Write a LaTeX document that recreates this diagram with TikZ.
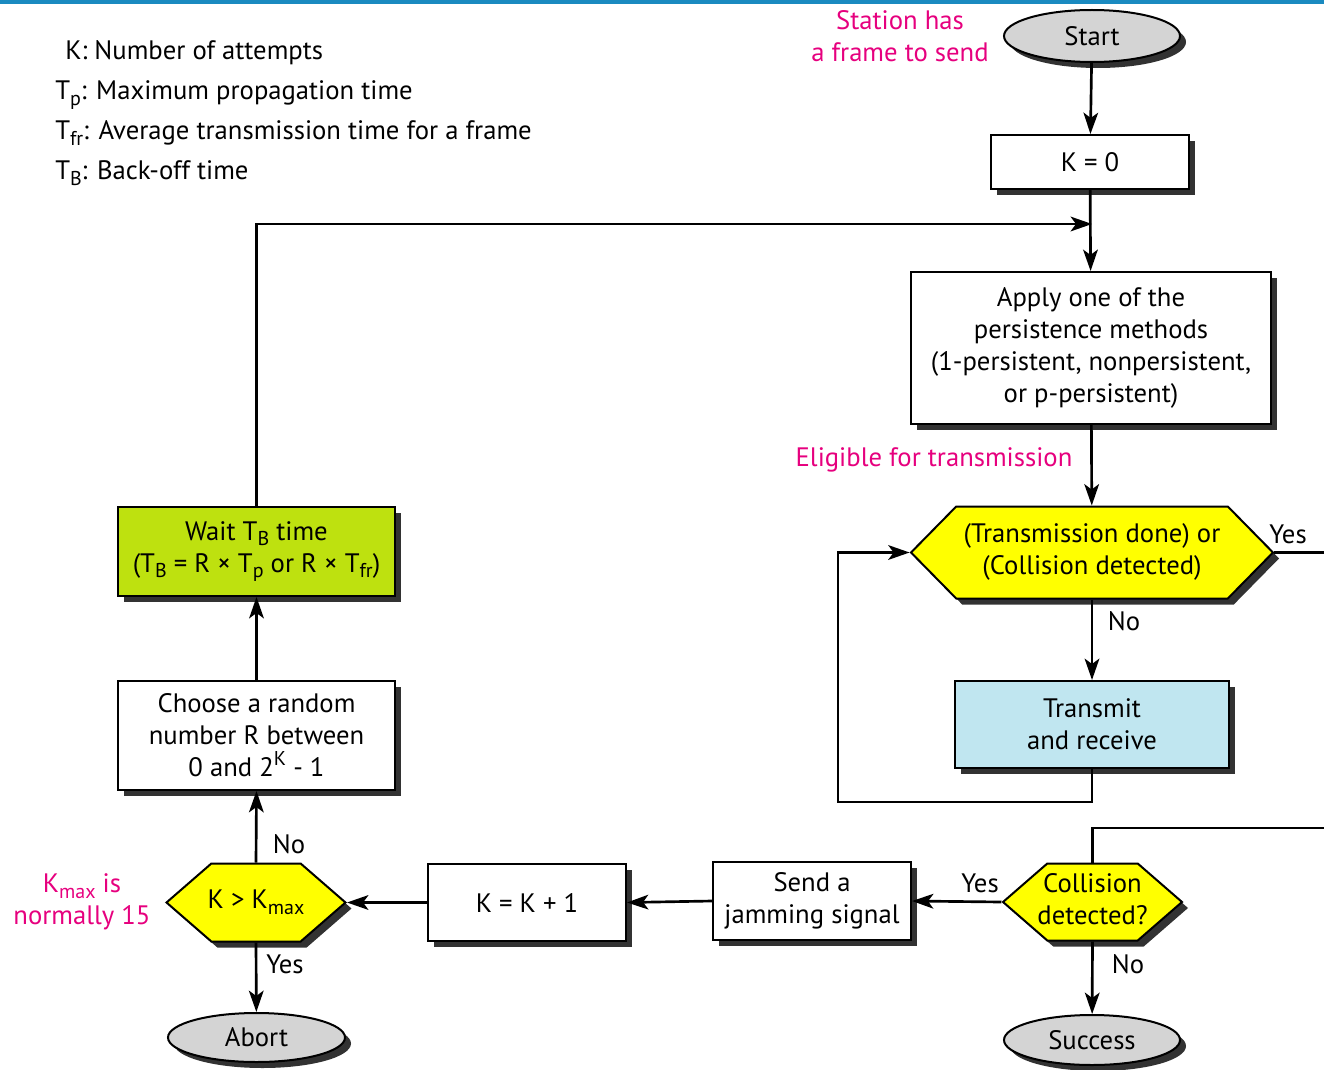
\documentclass[tikz,border=0pt]{standalone}
\usepackage{fontspec}
\setmainfont{PT Sans}
\usetikzlibrary{shapes.geometric,shapes.symbols,arrows.meta,shadows}
\definecolor{barblue}{RGB}{26,138,192}
\definecolor{pinktxt}{RGB}{230,0,126}
\definecolor{hexyellow}{RGB}{255,255,0}
\definecolor{waitgreen}{RGB}{190,225,15}
\definecolor{txblue}{RGB}{192,230,240}
\definecolor{ovalgray}{RGB}{212,212,212}
\definecolor{shadowgray}{RGB}{50,50,50}
\newcommand\subt[1]{\raisebox{-0.4ex}{\fontsize{15}{15}\selectfont #1}}
\newcommand\supt[1]{\raisebox{0.85ex}{\fontsize{15}{15}\selectfont #1}}
\newcommand\hexlines[1]{\makebox[0pt]{\begin{tabular}{@{}c@{}}#1\end{tabular}}}
\begin{document}
\begin{tikzpicture}[x=0.75pt,y=-0.75pt,
  every node/.style={font=\fontsize{20}{24}\selectfont, inner sep=0pt},
  shad/.style={drop shadow={shadow xshift=4.5pt,shadow yshift=-4.5pt,fill=shadowgray,opacity=1}},
  procbox/.style={draw, line width=1.5pt, fill=white, shad, align=center},
  ovalnode/.style={ellipse, draw, line width=1.5pt, fill=ovalgray, shad},
  hexnode/.style={signal, signal to=west and east, draw, line width=1.5pt, fill=hexyellow, shad},
  arr/.style={line width=2pt, -{Stealth[length=16pt,width=11pt,inset=4pt]}},
  ln/.style={line width=2pt},
  pinklbl/.style={text=pinktxt, align=center}]
\useasboundingbox (0,0) rectangle (1324,1070);
\clip (0,0) rectangle (1324,1070);
\fill[barblue] (0,0) rectangle (1324,4);

% legend
\node[anchor=base west] (lk) at (65,60) {K: Number of attempts};
\node[anchor=base west] (ltp) at (55,100) {T\subt{p}: Maximum propagation time};
\node[anchor=base west] (ltfr) at (55,140) {T\subt{fr}: Average transmission time for a frame};
\node[anchor=base west] (ltb) at (55,180) {T\subt{B}: Back-off time};

% pink notes
\node[pinklbl] (station) at (900,36) {Station has\\a frame to send};
\node[pinklbl] (elig) at (934,460) {Eligible for transmission};
\node[pinklbl] (kmaxnote) at (82,902) {K\subt{max} is\\normally 15};

% nodes
\node[ovalnode, minimum width=132pt, minimum height=39pt] (start) at (1092,36) {Start};
\node[procbox, minimum width=148.5pt, minimum height=40.5pt] (k0) at (1090,162) {K = 0};
\coordinate (junc) at (1092,224);
\node[procbox, minimum width=270pt, minimum height=114pt] (apply) at (1091,348)
  {Apply one of the\\persistence methods\\(1-persistent, nonpersistent,\\or p-persistent)};
\node[hexnode, signal pointer angle=91, minimum width=271.5pt, minimum height=69pt] (hex1) at (1092,552.5)
  {\hexlines{(Transmission done) or\\(Collision detected)}};
\node[procbox, fill=txblue, minimum width=205.5pt, minimum height=65.25pt] (tx) at (1092,724.5)
  {Transmit\\and receive};
\node[hexnode, signal pointer angle=82, minimum width=134.25pt, minimum height=57.75pt] (hex2) at (1092.5,902)
  {\hexlines{Collision\\detected?}};
\node[ovalnode, minimum width=132pt, minimum height=37.5pt] (success) at (1092,1040) {Success};
\node[procbox, minimum width=148.5pt, minimum height=58.5pt] (jam) at (812,901) {Send a\\jamming signal};
\node[procbox, minimum width=148.5pt, minimum height=57.75pt] (kk1) at (527,902.5) {K = K + 1};
\node[hexnode, signal pointer angle=82, minimum width=134.25pt, minimum height=58.5pt] (hex3) at (256,902.5)
  {\hexlines{K > K\subt{max}}};
\node[ovalnode, minimum width=132.75pt, minimum height=36.75pt] (abort) at (256.5,1037.5) {Abort};
\node[procbox, minimum width=207.75pt, minimum height=81.75pt] (choose) at (256.5,735.5)
  {Choose a random\\number R between\\0 and 2\supt{K} - 1};
\node[procbox, fill=waitgreen, minimum width=207.75pt, minimum height=66.75pt] (wait) at (256.5,551.5)
  {Wait T\subt{B} time\\(T\subt{B} = R × T\subt{p} or R × T\subt{fr})};

% connector labels
\node (yes1) at (1288,534) {Yes};
\node (no1) at (1124,621) {No};
\node (yes2) at (980,883) {Yes};
\node (no2) at (1128,964) {No};
\node (no3) at (289,844) {No};
\node (yes3) at (285,964) {Yes};

% connectors
\coordinate (loopbl) at (838,802);
\coordinate (rt1) at (1340,552.5);
\coordinate (rt2) at (1340,828);
\draw[arr] (start) -- (k0);
\draw[arr] (k0) -- (apply);
\draw[arr] (wait.north) |- (junc);
\draw[arr] (apply) -- (hex1);
\draw[arr] (hex1) -- (tx);
\draw[arr] (tx.south) |- (loopbl) |- (hex1.west);
\draw[ln] (hex1.east) -- (rt1) -- (rt2) -| (hex2.north);
\draw[arr] (hex2.south) -- (success);
\draw[arr] (hex2.west) -- (jam.east);
\draw[arr] (jam.west) -- (kk1.east);
\draw[arr] (kk1.west) -- (hex3.east);
\draw[arr] (hex3.south) -- (abort);
\draw[arr] (hex3.north) -- (choose.south);
\draw[arr] (choose.north) -- (wait.south);
\end{tikzpicture}
\end{document}
